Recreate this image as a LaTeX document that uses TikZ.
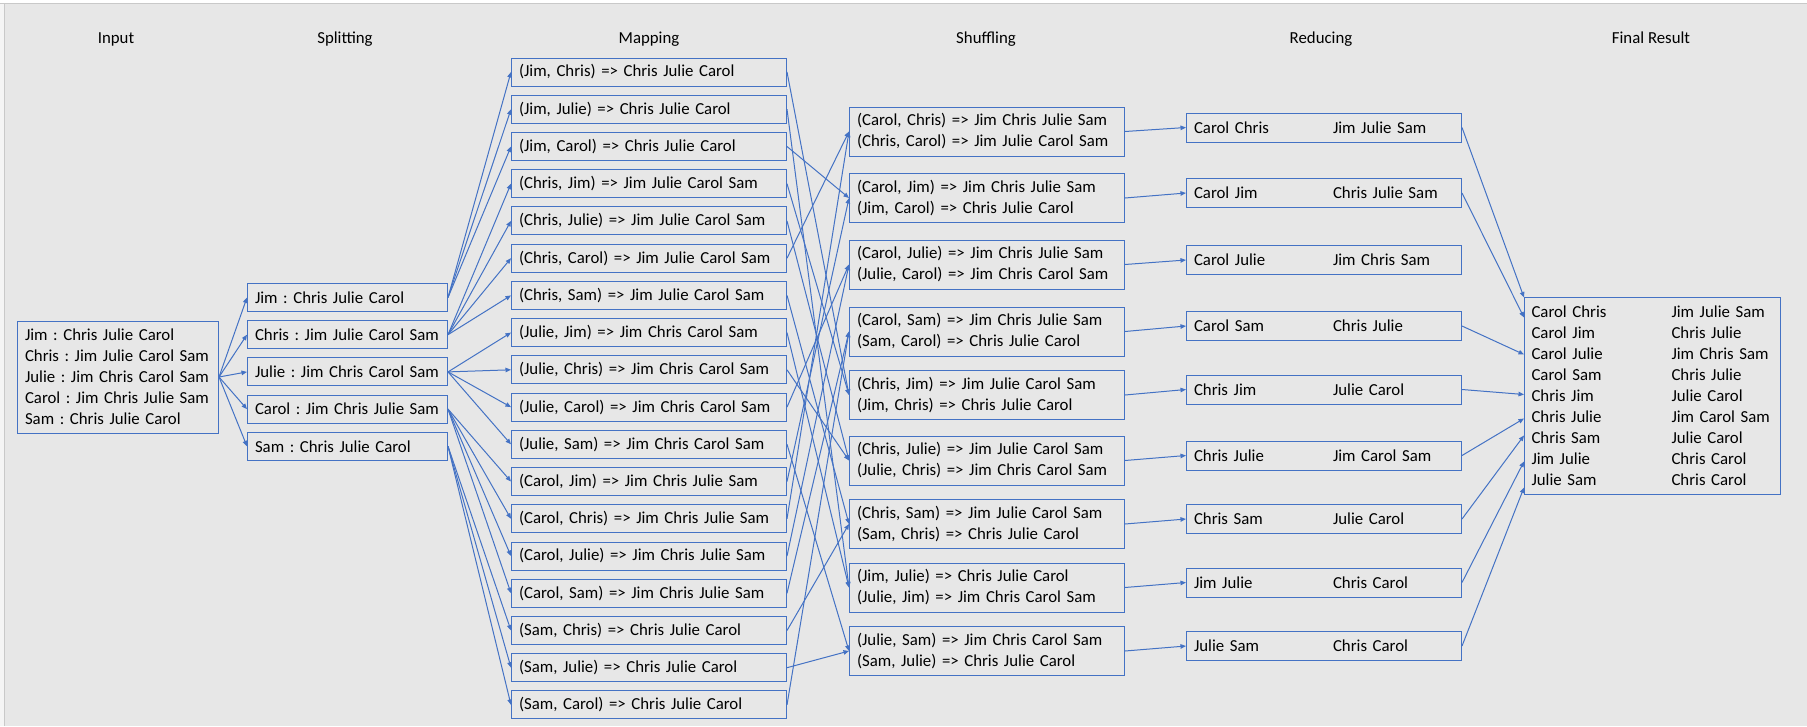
\documentclass[tikz,border=0pt]{standalone}
\usepackage{fontspec}
\setmainfont{Carlito}
\usetikzlibrary{arrows.meta,calc}
\definecolor{bg}{HTML}{E7E7E7}
\definecolor{ob}{HTML}{4472C4}
\definecolor{edge}{HTML}{C9C9C9}
\newcommand{\tl}[1]{\mbox{#1}}
\begin{document}
\frenchspacing
\begin{tikzpicture}[x=1pt,y=-1pt,
  every node/.style={font=\fontsize{16.8}{21}\selectfont\frenchspacing, text=black},
  box/.style={draw=ob, line width=1pt, inner xsep=7.5pt, inner ysep=0pt, align=left, anchor=west},
  mapbox/.style={box, text width=260pt, minimum height=28pt},
  splitbox/.style={box, text width=185pt, minimum height=28pt},
  shufbox/.style={box, text width=260pt, minimum height=49pt},
  redbox/.style={box, text width=260pt, minimum height=29pt},
  ttl/.style={anchor=base},
  con/.style={draw=ob, line width=1pt, -{Triangle[length=5.5pt,width=4.5pt]}},
]
\useasboundingbox (0,0) rectangle (1807,726);
\fill[bg] (0,0) rectangle (1807,726);
\fill[white] (0,0) rectangle (1807,3);
\fill[gray!8] (0,3.5) rectangle (4,726);
\draw[edge, line width=1pt] (0,3.5) -- (1807,3.5);
\draw[edge, line width=1pt] (4,3.5) -- (4,726);

% titles
\node[ttl] (t1) at (116,43) {Input};
\node[ttl] (t2) at (345,43) {Splitting};
\node[ttl] (t3) at (649,43) {Mapping};
\node[ttl] (t4) at (986,43) {Shuffling};
\node[ttl] (t5) at (1321,43) {Reducing};
\node[ttl] (t6) at (1651,43) {Final Result};

% input
\node[box, text width=186pt, minimum height=112pt] (in) at (17,377) {\tl{Jim : Chris Julie Carol}\\\tl{Chris : Jim Julie Carol Sam}\\\tl{Julie : Jim Chris Carol Sam}\\\tl{Carol : Jim Chris Julie Sam}\\\tl{Sam : Chris Julie Carol}};

% splitting
\node[splitbox] (sp1) at (247,297.5) {\tl{Jim : Chris Julie Carol}};
\node[splitbox] (sp2) at (247,334.7) {\tl{Chris : Jim Julie Carol Sam}};
\node[splitbox] (sp3) at (247,371.9) {\tl{Julie : Jim Chris Carol Sam}};
\node[splitbox] (sp4) at (247,409.1) {\tl{Carol : Jim Chris Julie Sam}};
\node[splitbox] (sp5) at (247,446.3) {\tl{Sam : Chris Julie Carol}};

% mapping
\node[mapbox] (m0) at (511,72) {\tl{(Jim, Chris) => Chris Julie Carol}};
\node[mapbox] (m1) at (511,109.2) {\tl{(Jim, Julie) => Chris Julie Carol}};
\node[mapbox] (m2) at (511,146.5) {\tl{(Jim, Carol) => Chris Julie Carol}};
\node[mapbox] (m3) at (511,183.7) {\tl{(Chris, Jim) => Jim Julie Carol Sam}};
\node[mapbox] (m4) at (511,220.9) {\tl{(Chris, Julie) => Jim Julie Carol Sam}};
\node[mapbox] (m5) at (511,258.2) {\tl{(Chris, Carol) => Jim Julie Carol Sam}};
\node[mapbox] (m6) at (511,295.4) {\tl{(Chris, Sam) => Jim Julie Carol Sam}};
\node[mapbox] (m7) at (511,332.6) {\tl{(Julie, Jim) => Jim Chris Carol Sam}};
\node[mapbox] (m8) at (511,369.8) {\tl{(Julie, Chris) => Jim Chris Carol Sam}};
\node[mapbox] (m9) at (511,407.1) {\tl{(Julie, Carol) => Jim Chris Carol Sam}};
\node[mapbox] (m10) at (511,444.3) {\tl{(Julie, Sam) => Jim Chris Carol Sam}};
\node[mapbox] (m11) at (511,481.5) {\tl{(Carol, Jim) => Jim Chris Julie Sam}};
\node[mapbox] (m12) at (511,518.8) {\tl{(Carol, Chris) => Jim Chris Julie Sam}};
\node[mapbox] (m13) at (511,556.0) {\tl{(Carol, Julie) => Jim Chris Julie Sam}};
\node[mapbox] (m14) at (511,593.2) {\tl{(Carol, Sam) => Jim Chris Julie Sam}};
\node[mapbox] (m15) at (511,630.5) {\tl{(Sam, Chris) => Chris Julie Carol}};
\node[mapbox] (m16) at (511,667.7) {\tl{(Sam, Julie) => Chris Julie Carol}};
\node[mapbox] (m17) at (511,704.9) {\tl{(Sam, Carol) => Chris Julie Carol}};

% shuffling
\node[shufbox] (sh0) at (849,131.5) {\tl{(Carol, Chris) => Jim Chris Julie Sam}\\\tl{(Chris, Carol) => Jim Julie Carol Sam}};
\node[shufbox] (sh1) at (849,198) {\tl{(Carol, Jim) => Jim Chris Julie Sam}\\\tl{(Jim, Carol) => Chris Julie Carol}};
\node[shufbox] (sh2) at (849,264.5) {\tl{(Carol, Julie) => Jim Chris Julie Sam}\\\tl{(Julie, Carol) => Jim Chris Carol Sam}};
\node[shufbox] (sh3) at (849,331.5) {\tl{(Carol, Sam) => Jim Chris Julie Sam}\\\tl{(Sam, Carol) => Chris Julie Carol}};
\node[shufbox] (sh4) at (849,395) {\tl{(Chris, Jim) => Jim Julie Carol Sam}\\\tl{(Jim, Chris) => Chris Julie Carol}};
\node[shufbox] (sh5) at (849,460.5) {\tl{(Chris, Julie) => Jim Julie Carol Sam}\\\tl{(Julie, Chris) => Jim Chris Carol Sam}};
\node[shufbox] (sh6) at (849,524) {\tl{(Chris, Sam) => Jim Julie Carol Sam}\\\tl{(Sam, Chris) => Chris Julie Carol}};
\node[shufbox] (sh7) at (849,587.5) {\tl{(Jim, Julie) => Chris Julie Carol}\\\tl{(Julie, Jim) => Jim Chris Carol Sam}};
\node[shufbox] (sh8) at (849,651) {\tl{(Julie, Sam) => Jim Chris Carol Sam}\\\tl{(Sam, Julie) => Chris Julie Carol}};

% reducing
\node[redbox] (r0) at (1186,127.5) {\makebox[139pt][l]{Carol Chris}\tl{Jim Julie Sam}};
\node[redbox] (r1) at (1186,193) {\makebox[139pt][l]{Carol Jim}\tl{Chris Julie Sam}};
\node[redbox] (r2) at (1186,260) {\makebox[139pt][l]{Carol Julie}\tl{Jim Chris Sam}};
\node[redbox] (r3) at (1186,326) {\makebox[139pt][l]{Carol Sam}\tl{Chris Julie}};
\node[redbox] (r4) at (1186,389.5) {\makebox[139pt][l]{Chris Jim}\tl{Julie Carol}};
\node[redbox] (r5) at (1186,455.5) {\makebox[139pt][l]{Chris Julie}\tl{Jim Carol Sam}};
\node[redbox] (r6) at (1186,519) {\makebox[139pt][l]{Chris Sam}\tl{Julie Carol}};
\node[redbox] (r7) at (1186,582.5) {\makebox[139pt][l]{Jim Julie}\tl{Chris Carol}};
\node[redbox] (r8) at (1186,646) {\makebox[139pt][l]{Julie Sam}\tl{Chris Carol}};

% final
\node[box, text width=242pt, inner xsep=7pt, minimum height=197pt] (fin) at (1524,395.5) {%
\makebox[140pt][l]{Carol Chris}\tl{Jim Julie Sam}\\
\makebox[140pt][l]{Carol Jim}\tl{Chris Julie}\\
\makebox[140pt][l]{Carol Julie}\tl{Jim Chris Sam}\\
\makebox[140pt][l]{Carol Sam}\tl{Chris Julie}\\
\makebox[140pt][l]{Chris Jim}\tl{Julie Carol}\\
\makebox[140pt][l]{Chris Julie}\tl{Jim Carol Sam}\\
\makebox[140pt][l]{Chris Sam}\tl{Julie Carol}\\
\makebox[140pt][l]{Jim Julie}\tl{Chris Carol}\\
\makebox[140pt][l]{Julie Sam}\tl{Chris Carol}};

% input -> splitting
\foreach \j in {1,...,5} \draw[con] (in.east) -- (sp\j.west);

% splitting -> mapping
\foreach \s/\m in {1/0,1/1,1/2,2/3,2/4,2/5,2/6,3/7,3/8,3/9,3/10,4/11,4/12,4/13,4/14,5/15,5/16,5/17}
  \draw[con] (sp\s.east) -- (m\m.west);

% mapping -> shuffling
\foreach \a/\b in {0/4,1/7,2/1,3/4,4/5,5/0,6/6,7/7,8/5,9/2,10/8,11/1,12/0,13/2,14/3,15/6,16/8,17/3}
  \draw[con] (m\a.east) -- (sh\b.west);

% shuffling -> reducing
\foreach \k in {0,...,8} \draw[con] (sh\k.east) -- (r\k.west);

% reducing -> final
\foreach \k/\d in {0/1,1/21,3/58,4/98,5/122,6/139,7/165,8/191}
  \draw[con] (r\k.east) -- ($(fin.north west)+(0,\d)$);
\end{tikzpicture}
\end{document}
